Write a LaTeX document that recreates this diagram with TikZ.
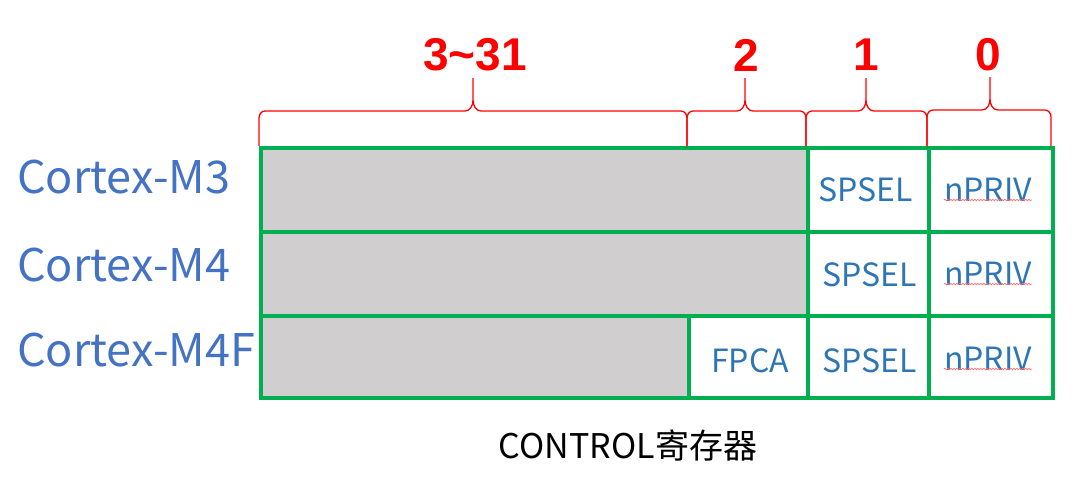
\documentclass[tikz,border=0pt]{standalone}
\usepackage{fontspec}
\setmainfont{Noto Sans CJK SC}
\newfontfamily\bitfont{Liberation Sans}
\usetikzlibrary{decorations.pathmorphing}
\definecolor{cellgreen}{HTML}{00B050}
\definecolor{cellgray}{HTML}{D0CECE}
\definecolor{labblue}{HTML}{4472C4}
\definecolor{txtblue}{HTML}{2E75B6}
\definecolor{bitred}{HTML}{FF0000}
\begin{document}
\begin{tikzpicture}[x=1pt,y=-1pt,
  cell/.style={draw=cellgreen,line width=3.5pt,inner sep=0pt,anchor=north west},
  graycell/.style={cell,fill=cellgray},
  celltext/.style={text=txtblue,font=\fontsize{32}{34}\selectfont,inner sep=0pt},
  rowlab/.style={text=labblue,font=\fontsize{45}{48}\selectfont,anchor=base west,inner sep=0pt},
  bitlab/.style={text=bitred,font=\bitfont\bfseries\fontsize{46}{50}\selectfont,inner sep=0pt},
  bracepath/.style={draw=bitred,line width=1.3pt},
  squiggle/.style={draw=red!55,line width=0.7pt,decorate,decoration={snake,amplitude=0.8pt,segment length=3pt}}
]
\useasboundingbox (0,0) rectangle (1080,485);
% row 1
\node[graycell,minimum width=547,minimum height=84] (g1) at (259,146) {};
\node[cell,minimum width=121,minimum height=84] (s1) at (806,146) {};
\node[cell,minimum width=124,minimum height=84] (p1) at (927,146) {};
% row 2
\node[graycell,minimum width=547,minimum height=84] (g2) at (259,230) {};
\node[cell,minimum width=121,minimum height=84] (s2) at (806,230) {};
\node[cell,minimum width=124,minimum height=84] (p2) at (927,230) {};
% row 3
\node[graycell,minimum width=428,minimum height=82] (g3) at (259,314) {};
\node[cell,minimum width=119,minimum height=82] (f3) at (687,314) {};
\node[cell,minimum width=121,minimum height=82] (s3) at (806,314) {};
\node[cell,minimum width=124,minimum height=82] (p3) at (927,314) {};
% cell texts
\node[celltext,anchor=base] (t-s1) at (866,201) {SPSEL};
\node[celltext,anchor=base] (t-p1) at (988,201) {nPRIV};
\node[celltext,anchor=base] (t-s2) at (870,286) {SPSEL};
\node[celltext,anchor=base] (t-p2) at (988,285) {nPRIV};
\node[celltext,anchor=base] (t-f3) at (750,372) {FPCA};
\node[celltext,anchor=base] (t-s3) at (870,372) {SPSEL};
\node[celltext,anchor=base] (t-p3) at (988,370) {nPRIV};
% spell-check squiggles
\foreach \n in {t-p1,t-p2,t-p3}{
  \draw[squiggle] ([xshift=0pt,yshift=1pt]\n.base west) -- ([xshift=0pt,yshift=1pt]\n.base east);
}
% row labels
\node[rowlab] (m3) at (17,193) {Cortex-M3};
\node[rowlab] (m4) at (17,281) {Cortex-M4};
\node[rowlab] (m4f) at (17,366) {Cortex-M4F};
% braces
\draw[bracepath] (259,146) -- (259,118) to[out=90,in=180] (265,111) -- (465,111) to[out=0,in=-90] (473,100) -- (473,78)
  -- (473,100) to[out=-90,in=180] (481,111) -- (681,111) to[out=0,in=90] (687,118) -- (687,146);
\draw[bracepath] (687,146) -- (687,118) to[out=90,in=180] (693,111) -- (737,111) to[out=0,in=-90] (745,100) -- (745,78)
  -- (745,100) to[out=-90,in=180] (753,111) -- (800,111) to[out=0,in=90] (806,118) -- (806,146);
\draw[bracepath] (806,146) -- (806,118) to[out=90,in=180] (812,111) -- (858,111) to[out=0,in=-90] (866,100) -- (866,78)
  -- (866,100) to[out=-90,in=180] (874,111) -- (921,111) to[out=0,in=90] (927,118) -- (927,146);
\draw[bracepath] (927,146) -- (927,117) to[out=90,in=180] (933,110) -- (982,110) to[out=0,in=-90] (990,99) -- (990,77)
  -- (990,99) to[out=-90,in=180] (998,110) -- (1045,110) to[out=0,in=90] (1051,117) -- (1051,146);
% bit labels
\node[bitlab] (l331) at (475,55) {3\textasciitilde 31};
\node[bitlab] (l2) at (746,55) {2};
\node[bitlab] (l1) at (866,55) {1};
\node[bitlab] (l0) at (988,55) {0};
% caption
\node[font=\fontsize{34}{36}\selectfont,inner sep=0pt,anchor=base] (cap) at (628,458) {CONTROL寄存器};
\end{tikzpicture}
\end{document}
